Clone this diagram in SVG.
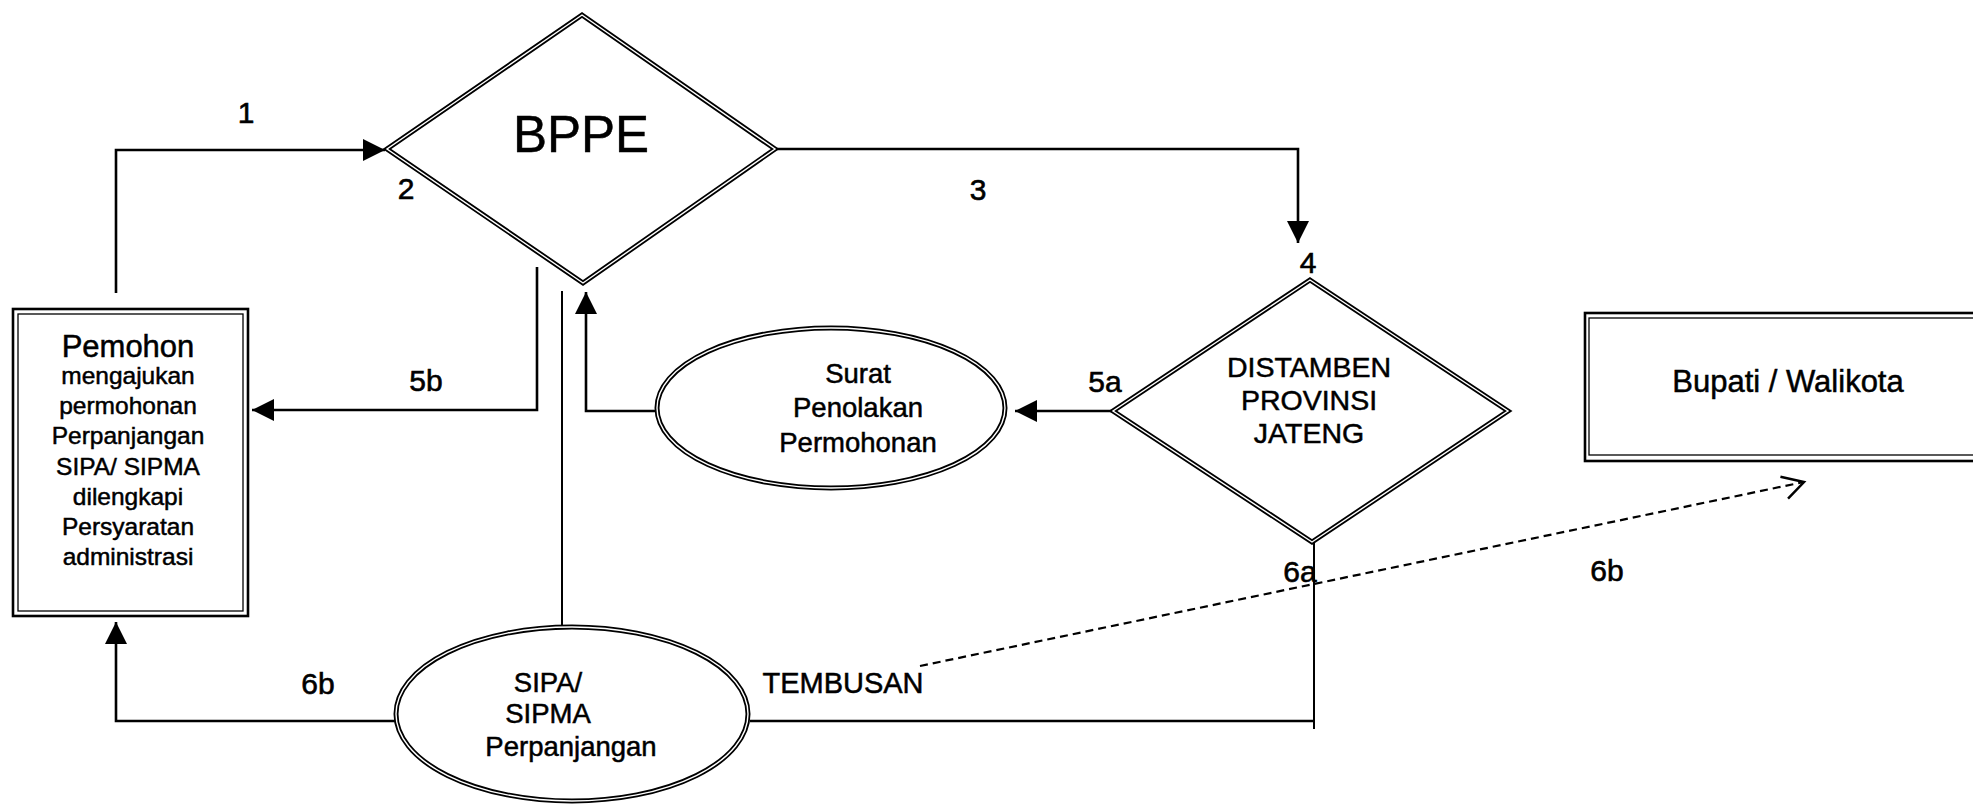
<svg xmlns="http://www.w3.org/2000/svg" width="1973" height="805" viewBox="0 0 1973 805">
<style>
.bg{fill:#fff}
.o{fill:#fff;stroke:#000;stroke-width:5}
.i{fill:none;stroke:#fff;stroke-width:1.4}
.ro{fill:#fff;stroke:#000;stroke-width:2.6}
.ri{fill:none;stroke:#000;stroke-width:1.3}
.c{fill:none;stroke:#000;stroke-width:2.6}
.t{fill:none;stroke:#000;stroke-width:2}
.d{fill:none;stroke:#000;stroke-width:2.2;stroke-dasharray:8 5}
.n{font-family:"Liberation Sans",Arial,sans-serif;fill:#000;stroke:#000;stroke-width:0.5;text-anchor:middle}
.l{font-family:"Liberation Sans Narrow","Liberation Sans",Arial,sans-serif;fill:#000;stroke:#000;stroke-width:0.6;text-anchor:middle;font-size:30px}
</style>
<defs>
<marker id="ah" markerUnits="userSpaceOnUse" markerWidth="24" markerHeight="24" refX="22" refY="11" orient="auto"><path d="M0,0 L22,11 L0,22 z" fill="#000"/></marker>
<marker id="oa" markerUnits="userSpaceOnUse" markerWidth="32" markerHeight="32" refX="25" refY="13" orient="auto"><path d="M3,3 L25,13 L6,26" fill="none" stroke="#000" stroke-width="2.5"/></marker>
</defs>
<rect class="bg" x="0" y="0" width="1973" height="805"/>

<g id="connectors">
<path class="c" d="M116,293 V150 H385" marker-end="url(#ah)"/>
<path class="c" d="M775,149 H1298 V243" marker-end="url(#ah)"/>
<path class="c" d="M537,267 V410 H252" marker-end="url(#ah)"/>
<path class="c" d="M657,411 H586 V292" marker-end="url(#ah)"/>
<path class="t" d="M562,291 V627"/>
<path class="c" d="M1113,411 H1015" marker-end="url(#ah)"/>
<path class="c" d="M396,721 H116 V622" marker-end="url(#ah)"/>
<path class="t" d="M1314,542 V729"/>
<path class="c" d="M750,721 H1314"/>
<path class="d" d="M920,666 L1804,482" marker-end="url(#oa)"/>
</g>

<g id="labels">
<text class="l" x="246" y="123">1</text>
<text class="l" x="406" y="199">2</text>
<text class="l" x="978" y="200">3</text>
<text class="l" x="1308" y="273">4</text>
<text class="l" x="1105" y="392">5a</text>
<text class="l" x="426" y="391">5b</text>
<text class="l" x="1300" y="582">6a</text>
<text class="l" x="318" y="694">6b</text>
<text class="l" x="1607" y="581">6b</text>
<text class="n" x="843" y="693" font-size="29">TEMBUSAN</text>
</g>

<g id="pemohon">
<rect class="ro" x="13" y="309" width="235" height="307"/>
<rect class="ri" x="18" y="314" width="225" height="297"/>
<text class="n" x="128" y="357" font-size="31">Pemohon</text>
<text class="n" x="128" y="384" font-size="24.5">mengajukan</text>
<text class="n" x="128" y="414" font-size="24.5">permohonan</text>
<text class="n" x="128" y="444" font-size="24.5">Perpanjangan</text>
<text class="n" x="128" y="475" font-size="24.5">SIPA/ SIPMA</text>
<text class="n" x="128" y="505" font-size="24.5">dilengkapi</text>
<text class="n" x="128" y="535" font-size="24.5">Persyaratan</text>
<text class="n" x="128" y="565" font-size="24.5">administrasi</text>
</g>

<g id="bppe">
<polygon class="o" points="582,15 775,149 583,283 387,149"/>
<polygon class="i" points="582,15 775,149 583,283 387,149"/>
<text class="n" x="581" y="152" font-size="51">BPPE</text>
</g>

<g id="distamben">
<polygon class="o" points="1310,280 1508,411 1312,542 1113,411"/>
<polygon class="i" points="1310,280 1508,411 1312,542 1113,411"/>
<text class="n" x="1309" y="377" font-size="28.5">DISTAMBEN</text>
<text class="n" x="1309" y="410" font-size="28.5">PROVINSI</text>
<text class="n" x="1309" y="443" font-size="28.5">JATENG</text>
</g>

<g id="surat">
<ellipse class="o" cx="831" cy="408" rx="174" ry="80"/>
<ellipse class="i" cx="831" cy="408" rx="174" ry="80"/>
<text class="n" x="858" y="383" font-size="27.5">Surat</text>
<text class="n" x="858" y="417" font-size="27.5">Penolakan</text>
<text class="n" x="858" y="452" font-size="27.5">Permohonan</text>
</g>

<g id="sipa">
<ellipse class="o" cx="572" cy="714" rx="176" ry="87"/>
<ellipse class="i" cx="572" cy="714" rx="176" ry="87"/>
<text class="n" x="548" y="692" font-size="27.5">SIPA/</text>
<text class="n" x="548" y="723" font-size="27.5">SIPMA</text>
<text class="n" x="571" y="756" font-size="27.5">Perpanjangan</text>
</g>

<g id="bupati">
<rect class="ro" x="1585" y="313" width="400" height="148"/>
<rect class="ri" x="1589" y="318" width="400" height="137"/>
<text class="n" x="1788" y="392" font-size="31">Bupati / Walikota</text>
</g>
</svg>
